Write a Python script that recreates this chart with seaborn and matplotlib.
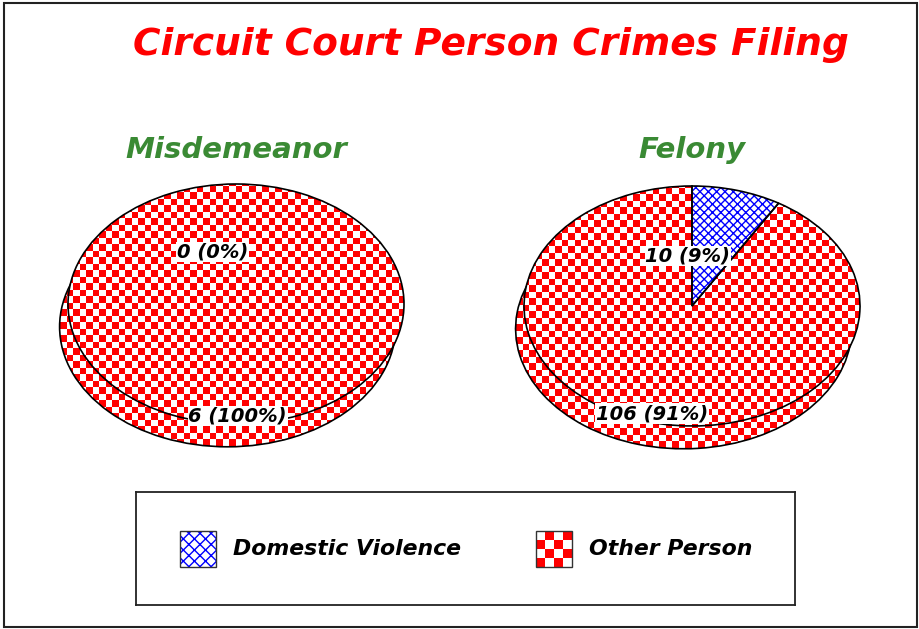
import numpy as np
import matplotlib
matplotlib.use("Agg")
import matplotlib.pyplot as plt
import matplotlib.patches as mpatches
from matplotlib.colors import ListedColormap
import seaborn as sns

# chart data
categories = ["Domestic Violence", "Other Person"]
panels = ["Misdemeanor", "Felony"]
misdemeanor_counts = [0, 6]
felony_counts = [10, 106]
title = "Circuit Court Person Crimes Filing"

sns.set_theme(style="white")
plt.rcParams["font.family"] = ["DejaVu Sans"]
plt.rcParams["hatch.linewidth"] = 1.0

W, H = 919, 629
fig = plt.figure(figsize=(W / 100, H / 100), dpi=100)
fig.patch.set_facecolor("white")


def px_box(left, top, width, height):
    return [left / W, (H - top - height) / H, width / W, height / H]


checker_cmap = ListedColormap(["white", "#ff0000"])
XL, YL = (-1.2, 1.2), (-1.4, 1.2)
RX, RY = 168, 120
CHECK = 6.5


def checkerboard(nx, ny):
    i, j = np.indices((ny, nx))
    return (i + j) % 2


def draw_pie(ax, counts):
    total = sum(counts)
    board = checkerboard(int(2.4 * RX / CHECK), int(2.6 * RY / CHECK))
    top_wedges = None
    # lower copy shifted down-left gives the disc its depth
    for shift, z in [((-0.05, -0.19), 1), ((0.0, 0.0), 3)]:
        wedges, _ = ax.pie(counts, startangle=90, counterclock=False, center=shift,
                           radius=1, wedgeprops=dict(facecolor="none", edgecolor="black",
                                                     linewidth=1.2))
        for w, cat, n in zip(wedges, categories, counts):
            w.set_zorder(z + 1)
            if n == 0:
                w.set_edgecolor("none")
            if cat == "Domestic Violence":
                ax.add_patch(mpatches.Wedge(w.center, w.r, w.theta1, w.theta2,
                                            facecolor="white", edgecolor="#0000ff",
                                            hatch="xxxx", linewidth=0, zorder=z))
            else:
                im = ax.imshow(board, cmap=checker_cmap, extent=(*XL, *YL), aspect="auto",
                               interpolation="nearest", zorder=z)
                im.set_clip_path(w)
        top_wedges = wedges

    for w, n in zip(top_wedges, counts):
        mid = np.deg2rad((w.theta1 + w.theta2) / 2)
        if np.sin(mid) > 0:
            x, y = 0.43 * np.cos(mid) - 0.14, 0.43 * np.sin(mid)
        else:
            x, y = 0.93 * np.cos(mid) + 0.01, 0.93 * np.sin(mid)
        ax.text(x, y, f"{n} ({n / total:.0%})", ha="center", va="center", fontsize=14,
                fontweight="bold", fontstyle="italic", color="black", zorder=6,
                bbox=dict(facecolor="white", edgecolor="none", pad=0.4))

    ax.set_aspect("auto")
    ax.set_xlim(*XL)
    ax.set_ylim(*YL)
    ax.axis("off")


centers = [(236, 304), (692, 306)]
for (cx, cy), name, counts in zip(centers, panels, [misdemeanor_counts, felony_counts]):
    ax = fig.add_axes(px_box(cx - 1.2 * RX, cy - 1.2 * RY, 2.4 * RX, 2.6 * RY))
    draw_pie(ax, counts)
    fig.text(cx / W, 1 - 150 / H, name, ha="center", va="center", fontsize=21,
             fontweight="bold", fontstyle="italic", color="#3a8a34")

fig.text(491 / W, 1 - 45 / H, title, ha="center", va="center", fontsize=27,
         fontweight="bold", fontstyle="italic", color="#ff0000")

# legend box
leg = fig.add_axes(px_box(136, 492, 659, 113))
leg.set_xticks([])
leg.set_yticks([])
for sp in leg.spines.values():
    sp.set_visible(True)
    sp.set_color("#222222")
    sp.set_linewidth(1.3)

for cat, x0 in zip(categories, [44, 400]):
    leg.add_patch(mpatches.Rectangle((x0, 39), 36, 36, facecolor="none",
                                     edgecolor="#333333", linewidth=1.0, zorder=3))
    if cat == "Domestic Violence":
        leg.add_patch(mpatches.Rectangle((x0, 39), 36, 36, facecolor="white",
                                         edgecolor="#0000ff", hatch="xxx", linewidth=0,
                                         zorder=2))
    else:
        leg.imshow(checkerboard(4, 4), cmap=checker_cmap,
                   extent=(x0, x0 + 36, 39 + 36, 39), aspect="auto",
                   interpolation="nearest", zorder=2)
    leg.text(x0 + 53, 57, cat, ha="left", va="center", fontsize=15.8,
             fontweight="bold", fontstyle="italic", color="black")
leg.set_xlim(0, 659)
leg.set_ylim(113, 0)

# outer frame
fig.add_artist(mpatches.Rectangle((4 / W, (H - 627) / H), 913 / W, 624 / H,
                                  transform=fig.transFigure, fill=False,
                                  edgecolor="#222222", linewidth=1.5))

fig.savefig("out.png", dpi=100)
